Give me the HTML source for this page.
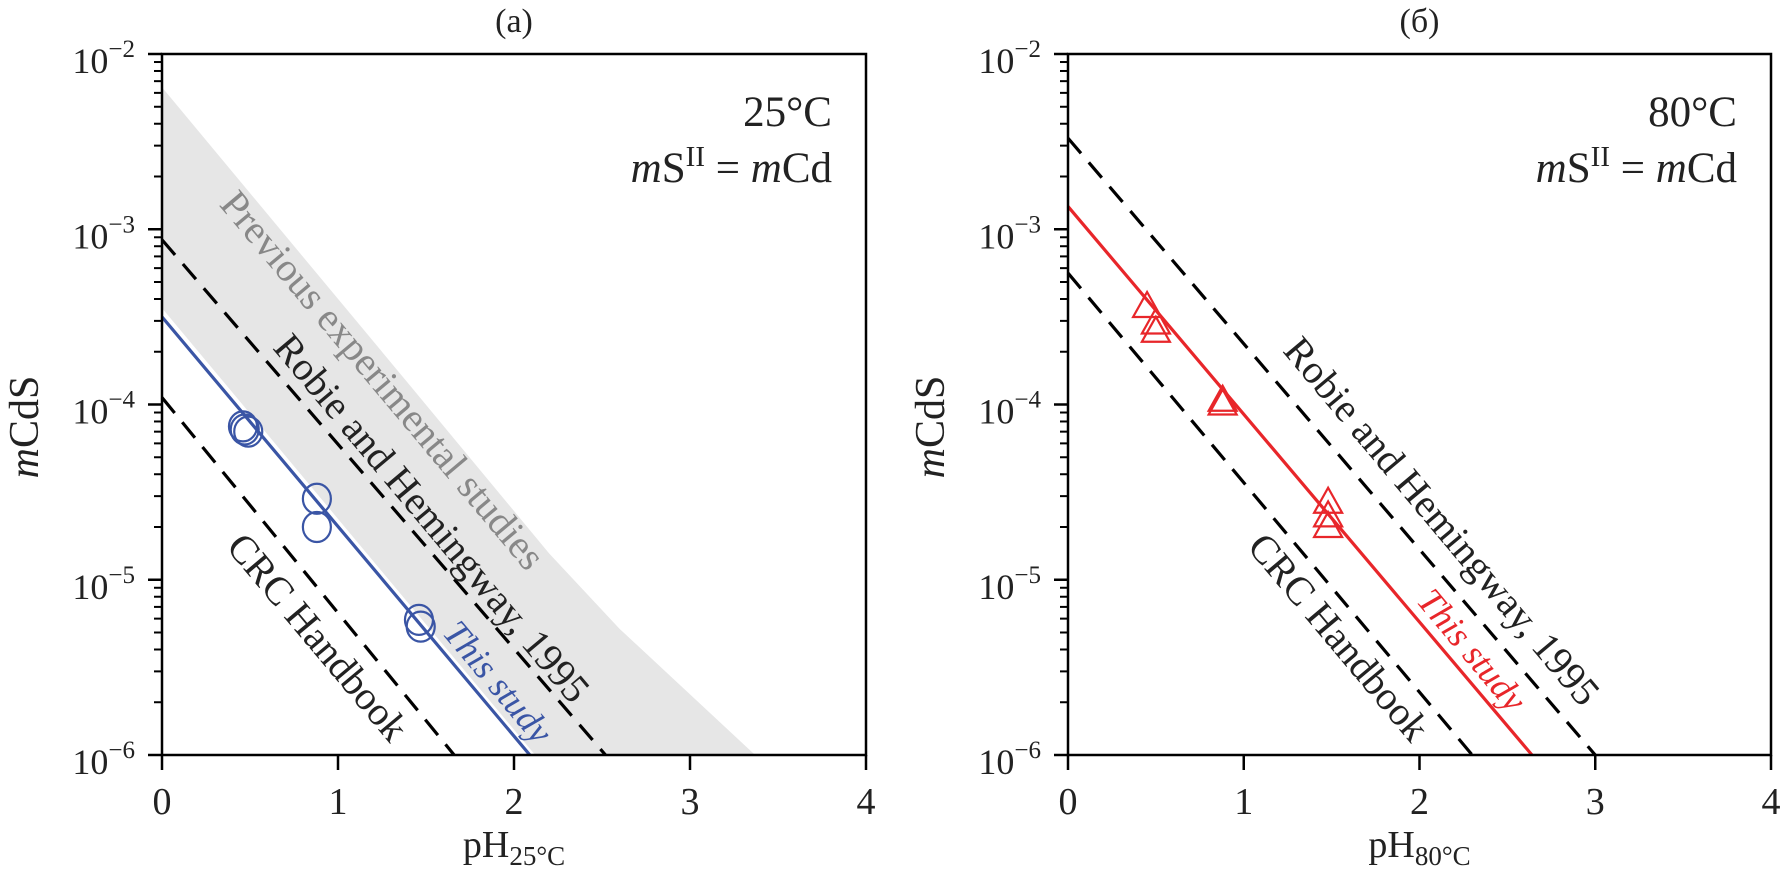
<!DOCTYPE html>
<html><head><meta charset="utf-8">
<style>
html,body{margin:0;padding:0;background:#fff;}
svg{display:block;font-family:"Liberation Serif",serif;}
</style></head>
<body>
<svg id="fig" width="1782" height="879" viewBox="0 0 1782 879" xmlns="http://www.w3.org/2000/svg">
<g id="pa"></g>
<g id="pb"></g>
</svg>
<script>
// ---- data (log10 mCdS vs pH) ----
const xTicks = [0,1,2,3,4];
const yTickExp = [-2,-3,-4,-5,-6];
// panel a
const bandUpperPH = [0,1.35,2.2,2.6,3.37];
const bandUpperLog = [-2.19,-3.82,-4.85,-5.28,-6];
const bandLowerPH = [2.12,0];
const bandLowerLog = [-6,-3.45];
const aThisPH = [0,2.09];   const aThisLog = [-3.50,-6];
const aRobiePH = [0,2.52];  const aRobieLog = [-3.06,-6];
const aCrcPH = [0,1.66];    const aCrcLog = [-3.96,-6];
const aPtsPH = [0.46,0.47,0.49,0.88,0.88,1.46,1.47];
const aPtsVal = [7.5e-5,7.2e-5,7.0e-5,2.9e-5,2.0e-5,5.9e-6,5.4e-6];
// panel b
const bThisPH = [0,2.64];   const bThisLog = [-2.87,-6];
const bRobiePH = [0,3.0];   const bRobieLog = [-2.48,-6];
const bCrcPH = [0,2.30];    const bCrcLog = [-3.25,-6];
const bPtsPH = [0.45,0.50,0.50,0.88,0.88,1.48,1.48,1.48];
const bPtsVal = [3.6e-4,2.9e-4,2.6e-4,1.05e-4,1.0e-4,2.75e-5,2.3e-5,2.0e-5];

const NS="http://www.w3.org/2000/svg";
function mk(parent,tag,attrs,text){const e=document.createElementNS(NS,tag);for(const k in attrs)e.setAttribute(k,attrs[k]);if(text!==undefined)e.textContent=text;parent.appendChild(e);return e;}

function panel(g,x0,x1,opts){
  const y0=54,y1=755;
  const sx=p=>x0+(x1-x0)*p/4;
  const sy=l=>y0+(y1-y0)*(-2-l)/4;
  if(opts.band){
    let pts=[];
    for(let i=0;i<bandUpperPH.length;i++)pts.push(sx(bandUpperPH[i])+","+sy(bandUpperLog[i]));
    for(let i=0;i<bandLowerPH.length;i++)pts.push(sx(bandLowerPH[i])+","+sy(bandLowerLog[i]));
    const b=mk(g,"polygon",{points:pts.join(" "),fill:"#e6e6e6"});
    
    
  }
  function line(ph,lg,color,dash,name){
    const l=mk(g,"line",{x1:sx(ph[0]),y1:sy(lg[0]),x2:sx(ph[1]),y2:sy(lg[1]),stroke:color,"stroke-width":3.2});
    if(dash)l.setAttribute("stroke-dasharray","20 12");
    
    
  }
  line(opts.robie[0],opts.robie[1],"#000",true,"robie-hemingway-line");
  line(opts.crc[0],opts.crc[1],"#000",true,"crc-handbook-line");
  line(opts.thisL[0],opts.thisL[1],opts.color,false,"this-study-line");
  for(let i=0;i<opts.ptsPH.length;i++){
    const cx=sx(opts.ptsPH[i]),cy=sy(Math.log10(opts.ptsVal[i]));
    let m;
    if(opts.marker==="circle"){
      m=mk(g,"ellipse",{cx:cx,cy:cy,rx:14,ry:15,fill:"none",stroke:opts.color,"stroke-width":2.2});
    }else{
      m=mk(g,"polygon",{points:(cx)+","+(cy-15)+" "+(cx+14)+","+(cy+10)+" "+(cx-14)+","+(cy+10),fill:"none",stroke:opts.color,"stroke-width":2.2});
    }
    
    
  }
  const fr=mk(g,"rect",{x:x0,y:y0,width:x1-x0,height:y1-y0,fill:"none",stroke:"#000","stroke-width":2.5});
  
  
  xTicks.forEach(t=>{
    const X=sx(t);
    mk(g,"line",{x1:X,y1:y1,x2:X,y2:y1+15,stroke:"#000","stroke-width":2.5});
    const tl=mk(g,"text",{x:X,y:814,"font-size":38,"text-anchor":"middle",fill:"#222"},String(t));
    
    
  });
  yTickExp.forEach((e,i)=>{
    const Y=sy(e);
    mk(g,"line",{x1:x0-14,y1:Y,x2:x0,y2:Y,stroke:"#000","stroke-width":2.5});
    const tl=mk(g,"text",{x:x0-27,y:Y+19,"font-size":36,"text-anchor":"end",fill:"#222"});
    mk(tl,"tspan",{},"10");
    mk(tl,"tspan",{"font-size":25,dy:-16},"\u2212"+Math.abs(e));
    
    
    if(i<yTickExp.length-1){
      for(let k=2;k<=9;k++){
        const Ym=sy(e-1+Math.log10(k));
        mk(g,"line",{x1:x0-8,y1:Ym,x2:x0,y2:Ym,stroke:"#000","stroke-width":2});
      }
    }
  });
  const cxm=(x0+x1)/2;
  const t=mk(g,"text",{x:cxm,y:32,"font-size":34,"text-anchor":"middle",fill:"#222"},opts.title);
  
  
  const xl=mk(g,"text",{x:cxm,y:857,"font-size":38,"text-anchor":"middle",fill:"#222"});
  mk(xl,"tspan",{},"pH");
  mk(xl,"tspan",{"font-size":27,dy:8},opts.sub);
  
  
  const yl=mk(g,"text",{x:0,y:0,"font-size":42,"text-anchor":"middle",fill:"#222",transform:"translate("+(x0-124)+",427) rotate(-90)"});
  mk(yl,"tspan",{"font-style":"italic"},"m");
  mk(yl,"tspan",{},"CdS");
  
  
  const c1=mk(g,"text",{x:x1-34,y:126,"font-size":43,"text-anchor":"end",fill:"#222"},opts.temp);
  
  
  const c2=mk(g,"text",{x:x1-34,y:182,"font-size":43,"text-anchor":"end",fill:"#222"});
  mk(c2,"tspan",{"font-style":"italic"},"m");
  mk(c2,"tspan",{},"S");
  mk(c2,"tspan",{"font-size":29,dy:-16},"II");
  mk(c2,"tspan",{dy:16}," = ");
  mk(c2,"tspan",{"font-style":"italic"},"m");
  mk(c2,"tspan",{},"Cd");
  
  
  opts.ann.forEach(a=>{
    const e=mk(g,"text",{x:0,y:0,"font-size":a[4]||40,"text-anchor":"middle","dominant-baseline":"central",fill:a[3],"font-style":a[5]||"normal",transform:"translate("+a[1]+","+a[2]+") rotate(50)"},a[0]);
    
    
  });
}

panel(document.getElementById("pa"),162,866,{
  band:true,color:"#3a55a5",marker:"circle",title:"(a)",sub:"25°C",temp:"25°C",
  robie:[aRobiePH,aRobieLog],crc:[aCrcPH,aCrcLog],thisL:[aThisPH,aThisLog],
  ptsPH:aPtsPH,ptsVal:aPtsVal,
  ann:[["Previous experimental studies",383,380,"#888"],
       ["Robie and Hemingway, 1995",432,518,"#222"],
       ["CRC Handbook",318,637,"#222"],
       ["This study",498,682,"#3a55a5",36,"italic"]]
});
panel(document.getElementById("pb"),1068,1771,{
  band:false,color:"#e8262a",marker:"tri",title:"(б)",sub:"80°C",temp:"80°C",
  robie:[bRobiePH,bRobieLog],crc:[bCrcPH,bCrcLog],thisL:[bThisPH,bThisLog],
  ptsPH:bPtsPH,ptsVal:bPtsVal,
  ann:[["Robie and Hemingway, 1995",1442,521,"#222"],
       ["CRC Handbook",1339,637,"#222"],
       ["This study",1472,650,"#e8262a",36,"italic"]]
});
</script>
</body></html>
